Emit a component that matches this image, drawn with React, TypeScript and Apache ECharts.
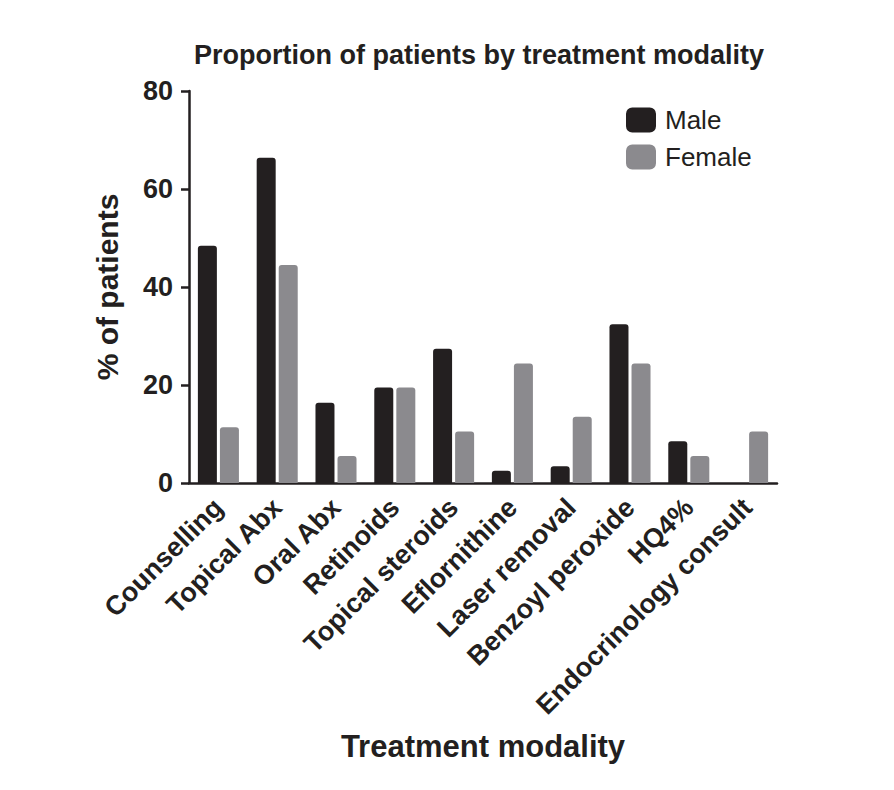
import React, { useEffect, useRef } from "react";
import * as echarts from "echarts";

const categories = [
  "Counselling",
  "Topical Abx",
  "Oral Abx",
  "Retinoids",
  "Topical steroids",
  "Eflornithine",
  "Laser removal",
  "Benzoyl peroxide",
  "HQ4%",
  "Endocrinology consult",
];
const maleValues = [48.4, 66.4, 16.4, 19.5, 27.4, 2.5, 3.4, 32.4, 8.5, 0];
const femaleValues = [11.4, 44.5, 5.5, 19.5, 10.5, 24.4, 13.5, 24.4, 5.5, 10.5];
const yTicks = { min: 0, max: 80, interval: 20 };

const INK = "#231f20";
const GREY = "#8b8a8e";
const FONT = "'Liberation Sans', Arial, Helvetica, sans-serif";

export default function App() {
  const ref = useRef<HTMLDivElement>(null);

  useEffect(() => {
    if (!ref.current) return;
    const chart = echarts.init(ref.current, undefined, { renderer: "svg" });
    chart.setOption({
      animation: false,
      backgroundColor: "#ffffff",
      textStyle: { fontFamily: FONT, color: INK },
      title: {
        text: "Proportion of patients by treatment modality",
        left: 474,
        textAlign: "center",
        top: 36,
        textStyle: { fontFamily: FONT, fontSize: 27, fontWeight: "bold", color: INK },
      },
      legend: {
        orient: "vertical",
        left: 621,
        top: 102,
        itemWidth: 30,
        itemHeight: 25,
        itemGap: 11,
        icon: "roundRect",
        textStyle: { fontFamily: FONT, fontSize: 26, color: INK, padding: [0, 0, 0, 4] },
        data: ["Male", "Female"],
      },
      grid: { left: 189, right: 117, top: 91, bottom: 307, containLabel: false },
      xAxis: {
        type: "category",
        data: categories,
        name: "Treatment modality",
        nameLocation: "middle",
        nameGap: 248,
        nameTextStyle: { fontFamily: FONT, fontSize: 31, fontWeight: "bold", color: INK },
        axisLine: { lineStyle: { color: INK, width: 2.5 } },
        axisTick: { alignWithLabel: true, length: 7, lineStyle: { color: INK, width: 2.5 } },
        axisLabel: {
          interval: 0,
          rotate: 45,
          margin: 20,
          fontFamily: FONT,
          fontSize: 27,
          fontWeight: "bold",
          color: INK,
        },
      },
      yAxis: {
        type: "value",
        min: yTicks.min,
        max: yTicks.max,
        interval: yTicks.interval,
        name: "% of patients",
        nameLocation: "middle",
        nameGap: 67,
        nameTextStyle: { fontFamily: FONT, fontSize: 30, fontWeight: "bold", color: INK },
        splitLine: { show: false },
        axisLine: { show: true, lineStyle: { color: INK, width: 2.5 } },
        axisTick: { show: true, length: 8, lineStyle: { color: INK, width: 2.5 } },
        axisLabel: { margin: 16, fontFamily: FONT, fontSize: 27, fontWeight: "bold", color: INK },
      },
      series: [
        {
          name: "Male",
          type: "bar",
          data: maleValues,
          barWidth: 19,
          barGap: "16%",
          itemStyle: { color: INK, borderRadius: [3, 3, 0, 0] },
        },
        {
          name: "Female",
          type: "bar",
          data: femaleValues,
          barWidth: 19,
          itemStyle: { color: GREY, borderRadius: [3, 3, 0, 0] },
        },
      ],
    });
    return () => chart.dispose();
  }, []);

  return (
    <div
      ref={ref}
      style={{ position: "fixed", left: 0, top: 0, width: 894, height: 790, background: "#fff" }}
    />
  );
}
